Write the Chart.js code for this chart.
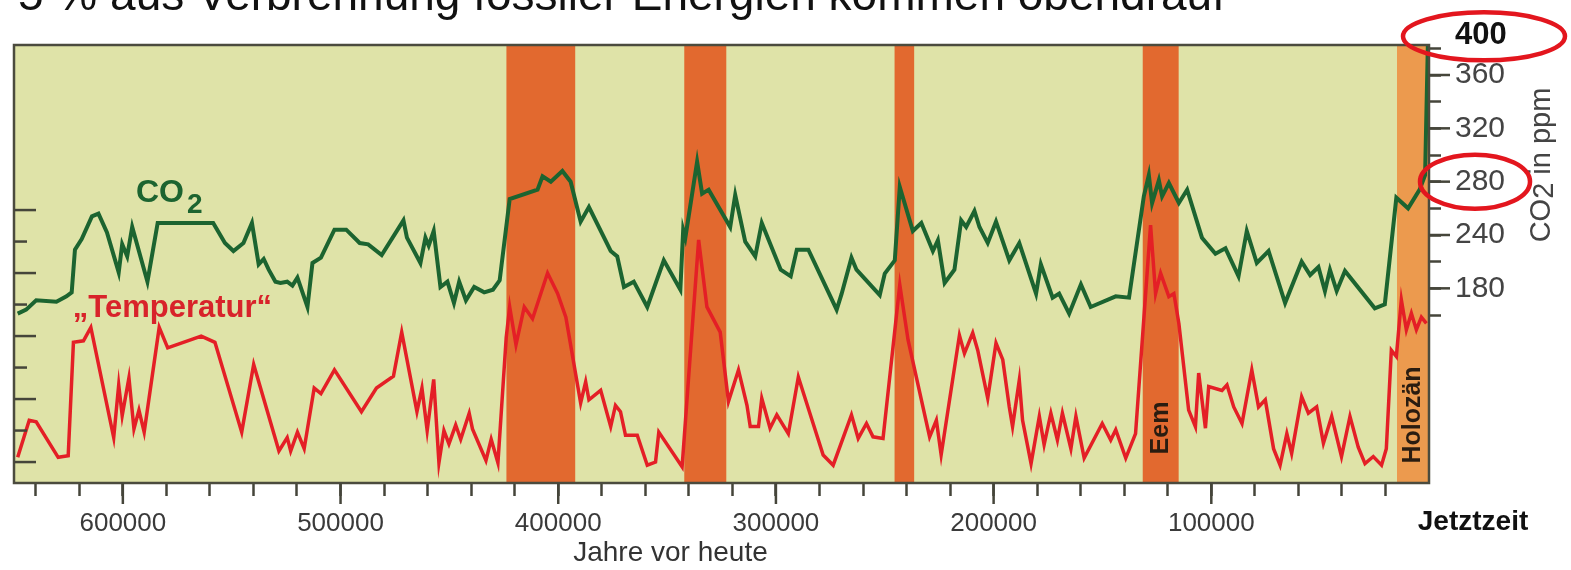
<!DOCTYPE html>
<html lang="de">
<head>
<meta charset="utf-8">
<title>CO2 und Temperatur</title>
<script src="https://cdn.jsdelivr.net/npm/chart.js@4.4.1/dist/chart.umd.min.js"></script>
<style>
  html, body { margin: 0; padding: 0; background: #fff; overflow: hidden; }
  canvas { display: block; }
</style>
</head>
<body>
<canvas id="chart" width="1571" height="570"></canvas>
<script>
const HEADLINE = '5 % aus Verbrennung fossiler Energien kommen obendrauf';

// CO2, Jahre vor heute -> ppm
const CO2_YEARS = [648300, 644400, 639800, 630500, 625900, 623500, 622000, 618900, 614200, 611200,
  607300, 601900, 600300, 598000, 595700, 588700, 584000, 558500, 553100, 549200,
  544600, 540700, 537600, 535300, 533000, 529900, 527600, 524500, 522100, 519800,
  515200, 512900, 509000, 502800, 497400, 491200, 487300, 481100, 471100, 469500,
  463300, 461000, 459500, 457200, 454100, 450900, 447900, 445500, 442400, 438600,
  434000, 430000, 426900, 422300, 409500, 407200, 403400, 398100, 394300, 389700,
  385900, 375900, 372900, 369800, 365300, 359100, 351500, 343900, 342600, 341600,
  336200, 333900, 330900, 321000, 318700, 314100, 309500, 306500, 297800, 293200,
  290400, 285100, 272100, 269800, 265300, 263000, 252300, 250000, 245400, 243100,
  237100, 233200, 227900, 225600, 222500, 218000, 214900, 212600, 208800, 206500,
  202700, 198900, 192800, 188200, 180500, 178300, 172900, 169900, 165300, 159900,
  155400, 143900, 137800, 131000, 128700, 127200, 124100, 122600, 119500, 114900,
  111100, 104300, 98100, 93500, 87500, 83700, 79100, 73700, 66100, 58500,
  54600, 50800, 47800, 45500, 42400, 38600, 24900, 20300, 15000, 9600,
  4300, 1800, 300];
const CO2_PPM = [181, 184, 191, 190, 194, 197, 229, 237, 254, 256,
  242, 212, 233, 224, 246, 205, 249, 249, 234, 228,
  234, 249, 218, 222, 214, 205, 204, 205, 202, 208,
  186, 219, 223, 244, 244, 234, 233, 225, 251, 238,
  219, 238, 232, 243, 201, 205, 189, 205, 191, 201,
  197, 199, 206, 267, 274, 284, 280, 288, 280, 250,
  261, 228, 224, 201, 205, 186, 221, 199, 244, 238,
  295, 271, 274, 246, 270, 235, 224, 249, 214, 209,
  229, 229, 184, 196, 223, 214, 195, 211, 221, 276,
  243, 249, 228, 236, 204, 214, 251, 246, 258, 246,
  234, 250, 221, 234, 196, 218, 193, 196, 181, 203,
  186, 194, 193, 269, 285, 264, 281, 269, 279, 264,
  274, 238, 226, 230, 209, 243, 219, 228, 189, 220,
  210, 216, 198, 214, 198, 213, 185, 188, 268, 260,
  274, 285, 400];

// "Temperatur", Jahre vor heute -> Abweichung in °C
const TEMP_YEARS = [648300, 643000, 639800, 629700, 625100, 622700, 618100, 614700, 604200, 601900,
  600300, 597200, 594900, 592600, 590200, 583300, 579400, 564000, 557700, 545400,
  539900, 528300, 524500, 522900, 519800, 516700, 512100, 509000, 502800, 490400,
  483500, 475700, 471900, 464900, 462600, 460200, 457200, 454800, 452500, 450200,
  447100, 444800, 440900, 439400, 433200, 430800, 427700, 423900, 422300, 419400,
  415600, 411800, 404900, 400300, 396500, 389700, 387400, 385900, 380500, 375900,
  373700, 371400, 369100, 363700, 359100, 355300, 353800, 343100, 335500, 331700,
  325600, 321800, 317200, 313300, 311800, 308000, 306500, 302700, 299600, 294300,
  289700, 278300, 273700, 265300, 262200, 258400, 255400, 250800, 243100, 239300,
  229400, 226300, 224100, 215700, 213400, 209600, 207300, 202700, 198900, 195800,
  192800, 191300, 188200, 186700, 182800, 179000, 176800, 173700, 170700, 168400,
  164500, 162200, 158400, 150100, 146200, 143900, 139300, 134800, 127900, 125600,
  123300, 119500, 117200, 114900, 110400, 107300, 105800, 102700, 101200, 95100,
  92800, 89700, 85900, 81400, 78300, 75200, 71400, 68400, 65300, 63100,
  58500, 55400, 51600, 48500, 44700, 40200, 36300, 32500, 29400, 25600,
  21800, 19600, 17300, 15000, 12700, 10400, 8100, 5800, 3500, 1200];
const TEMP_DEG = [-7.7, -5.35, -5.45, -7.7, -7.6, -0.4, -0.3, 0.55, -6.45, -3.1,
  -5.05, -2.65, -5.9, -4.7, -6.1, 0.55, -0.75, 0.0, -0.4, -6.1,
  -1.8, -7.3, -6.45, -7.3, -6.1, -7.15, -3.3, -3.65, -2.15, -4.8,
  -3.3, -2.55, 0.25, -4.8, -3.3, -6.0, -2.75, -8.05, -6.0, -6.85,
  -5.65, -6.55, -4.9, -5.9, -7.9, -6.55, -8.05, -0.1, 1.85, -0.55,
  1.85, 1.1, 4.0, 2.7, 1.2, -4.25, -2.9, -4.05, -3.45, -5.75,
  -4.4, -4.8, -6.3, -6.3, -8.2, -8.0, -6.1, -8.3, 6.1, 1.85,
  0.25, -4.15, -2.15, -4.4, -5.75, -5.75, -3.95, -5.85, -5.0, -6.2,
  -2.6, -7.55, -8.2, -5.0, -6.5, -5.55, -6.4, -6.5, 3.25, -0.25,
  -6.4, -5.35, -7.55, 0.05, -1.1, 0.2, -0.9, -3.95, -0.45, -1.5,
  -4.5, -5.75, -2.8, -5.35, -8.1, -5.1, -6.9, -4.9, -6.6, -4.9,
  -7.15, -5.1, -7.75, -5.55, -6.6, -5.95, -7.75, -6.2, 7.05, 2.7,
  4.0, 2.5, 2.7, 0.8, -4.7, -5.75, -2.35, -5.85, -3.2, -3.45,
  -3.1, -4.5, -5.55, -2.15, -4.5, -4.05, -7.15, -8.2, -6.2, -7.45,
  -3.85, -4.9, -4.5, -6.8, -5.1, -7.65, -5.1, -7.05, -8.1, -7.65,
  -8.2, -7.15, -0.9, -1.3, 2.3, 0.4, 1.45, 0.4, 1.2, 0.8];

// Warmzeiten (Jahre vor heute)
const WARM_FROM = [423800, 342100, 245500, 131500];
const WARM_TO = [392200, 322800, 236500, 115000];
const HOLOCENE = [14700, 0];

// axis ticks
const X_TICKS = [20000, 40000, 60000, 80000, 100000, 120000, 140000, 160000, 180000, 200000,
  220000, 240000, 260000, 280000, 300000, 320000, 340000, 360000, 380000, 400000,
  420000, 440000, 460000, 480000, 500000, 520000, 540000, 560000, 580000, 600000,
  620000, 640000];
const CO2_TICKS = [180, 200, 220, 240, 260, 280, 300, 320, 340, 360, 380];
const CO2_TICK_TEXT = ['', '180', '', '240', '', '280', '', '320', '', '360', ''];
const TEMP_TICKS = [-8, -6, -4, -2, 0, 2, 4, 6, 8];

const FONT = '"Liberation Sans", Arial, Helvetica, sans-serif';
const GREEN = '#1c6430';
const RED = '#e41f26';

function label(ctx, str, x, y, font, color, align, baseline) {
    ctx.font = font;
    ctx.fillStyle = color;
    ctx.textAlign = align || 'left';
    ctx.textBaseline = baseline || 'alphabetic';
    ctx.fillText(str, x, y);
}

// rotated text, reads bottom to top
function upLabel(ctx, str, x, y, font, color) {
    ctx.save();
    ctx.translate(x, y);
    ctx.rotate(-Math.PI / 2);
    label(ctx, str, 0, 0, font, color, 'center', 'middle');
    ctx.restore();
}

function tick(ctx, x0, y0, x1, y1) {
    ctx.beginPath();
    ctx.moveTo(x0, y0);
    ctx.lineTo(x1, y1);
    ctx.stroke();
}

const decor = {
    id: 'decor',
    beforeDraw(chart) {
        const { ctx, chartArea: a, scales } = chart;
        const x = scales.x;
        ctx.save();
        ctx.fillStyle = '#dfe3a8';
        ctx.fillRect(a.left, a.top, a.width, a.height);
        ctx.fillStyle = '#e2692f';
        WARM_FROM.forEach((from, i) => {
            const x0 = x.getPixelForValue(from);
            const x1 = x.getPixelForValue(WARM_TO[i]);
            ctx.fillRect(x0, a.top, x1 - x0, a.height);
        });
        const h0 = x.getPixelForValue(HOLOCENE[0]);
        const h1 = x.getPixelForValue(HOLOCENE[1]);
        ctx.fillStyle = '#ec9a4e';
        ctx.fillRect(h0, a.top, h1 - h0, a.height);

        const eemX = (x.getPixelForValue(WARM_FROM[3]) + x.getPixelForValue(WARM_TO[3])) / 2;
        upLabel(ctx, 'Eem', eemX, a.bottom - 55, 'bold 25px ' + FONT, '#2a1c10');
        upLabel(ctx, 'Holozän', (h0 + h1) / 2, a.bottom - 68, 'bold 25px ' + FONT, '#2a1c10');
        ctx.restore();
    },
    afterDatasetsDraw(chart) {
        const { ctx, chartArea: a, scales } = chart;
        ctx.save();
        ctx.strokeStyle = '#4b4b3e';
        ctx.lineWidth = 2.5;
        ctx.strokeRect(a.left, a.top, a.width, a.height);

        // ticks of the hidden temperature axis, drawn inside
        ctx.strokeStyle = '#45453a';
        ctx.lineWidth = 2.5;
        scales.yT.ticks.forEach(t => {
            const y = scales.yT.getPixelForValue(t.value);
            tick(ctx, a.left, y, a.left + (t.value % 4 === 0 ? 22 : 13), y);
        });
        // longer ticks for labelled values
        scales.x.ticks.forEach(t => {
            if (t.value % 100000 === 0) {
                const x = scales.x.getPixelForValue(t.value);
                tick(ctx, x, a.bottom, x, a.bottom + 21);
            }
        });
        scales.yCO2.ticks.forEach((t, i) => {
            if (CO2_TICK_TEXT[i]) {
                const y = scales.yCO2.getPixelForValue(t.value);
                tick(ctx, a.right, y, a.right + 21, y);
            }
        });

        // series names
        const cx = scales.x.getPixelForValue(594000);
        const cy = scales.yCO2.getPixelForValue(265);
        label(ctx, 'CO', cx, cy, 'bold 32px ' + FONT, GREEN);
        const w = ctx.measureText('CO').width;
        label(ctx, '2', cx + w + 3, cy + 11, 'bold 28px ' + FONT, GREEN);
        label(ctx, '„Temperatur“', scales.x.getPixelForValue(623000), scales.yT.getPixelForValue(1.2),
            'bold 31px ' + FONT, '#d8232a');
        ctx.restore();
    },
    afterDraw(chart) {
        const { ctx, chartArea: a, scales } = chart;
        ctx.save();
        label(ctx, HEADLINE, 18, 10, '46px ' + FONT, '#111');

        const x0 = scales.x.getPixelForValue(0);
        label(ctx, 'Jetztzeit', x0 + 44, 522, 'bold 28px ' + FONT, '#111', 'center', 'middle');
        label(ctx, 'Jahre vor heute', (a.left + a.right) / 2 - 51, 553, '28px ' + FONT, '#333', 'center', 'middle');

        const y380 = scales.yCO2.getPixelForValue(380);
        const y280 = scales.yCO2.getPixelForValue(280);
        label(ctx, '400', a.right + 26, y380 - 13, 'bold 31px ' + FONT, '#111', 'left', 'middle');

        // axis title, CO2 in ppm
        ctx.translate(a.right + 113, a.top + 120);
        ctx.rotate(-Math.PI / 2);
        ctx.font = '29px ' + FONT;
        const parts = ['CO', '2', ' in ppm'];
        const total = parts.reduce((s, p) => s + ctx.measureText(p).width, 0);
        let px = -total / 2;
        parts.forEach((p, i) => {
            label(ctx, p, px, i === 1 ? 3 : 0, '29px ' + FONT, '#444', 'left', 'middle');
            px += ctx.measureText(p).width;
        });
        ctx.setTransform(1, 0, 0, 1, 0, 0);

        // red rings
        ctx.strokeStyle = '#e3161e';
        ctx.lineWidth = 4.5;
        ctx.beginPath();
        ctx.ellipse(a.right + 55, y380 - 12, 81, 24, 0, 0, Math.PI * 2);
        ctx.stroke();
        ctx.beginPath();
        ctx.ellipse(a.right + 46, y280, 55, 27, 0, 0, Math.PI * 2);
        ctx.stroke();
        ctx.restore();
    }
};

const chart = new Chart(document.getElementById('chart'), {
    type: 'line',
    data: {
        datasets: [{
            label: 'CO2',
            data: CO2_YEARS.map((t, i) => ({ x: t, y: CO2_PPM[i] })),
            yAxisID: 'yCO2',
            borderColor: GREEN,
            borderWidth: 4,
            pointRadius: 0,
            tension: 0,
            clip: 0
        }, {
            label: 'Temperatur',
            data: TEMP_YEARS.map((t, i) => ({ x: t, y: TEMP_DEG[i] })),
            yAxisID: 'yT',
            borderColor: RED,
            borderWidth: 3.5,
            pointRadius: 0,
            tension: 0,
            clip: 0
        }]
    },
    options: {
        responsive: false,
        animation: false,
        devicePixelRatio: 1,
        layout: { padding: { left: 14, top: 45, right: 0, bottom: 0 } },
        plugins: { legend: { display: false }, tooltip: { enabled: false } },
        scales: {
            x: {
                type: 'linear',
                reverse: true,
                min: 0,
                max: 650000,
                afterBuildTicks: s => { s.ticks = X_TICKS.map(v => ({ value: v })); },
                afterFit: s => { s.height = 87; },
                border: { display: false },
                grid: { drawOnChartArea: false, tickLength: 13, tickWidth: 2.5, tickColor: '#45453a' },
                ticks: {
                    autoSkip: false,
                    maxRotation: 0,
                    padding: 12,
                    color: '#3a3a3a',
                    font: { family: FONT, size: 26 },
                    callback: v => (v % 100000 === 0 ? String(v) : '')
                }
            },
            yT: {
                position: 'left',
                display: false,
                min: -9.33,
                max: 18.48,
                afterBuildTicks: s => { s.ticks = TEMP_TICKS.map(v => ({ value: v })); }
            },
            yCO2: {
                position: 'right',
                min: 54,
                max: 382.5,
                afterBuildTicks: s => { s.ticks = CO2_TICKS.map(v => ({ value: v })); },
                afterFit: s => { s.width = 142; },
                border: { display: false },
                grid: { drawOnChartArea: false, tickLength: 12, tickWidth: 2.5, tickColor: '#45453a' },
                ticks: {
                    autoSkip: false,
                    padding: 14,
                    color: '#444',
                    font: { family: FONT, size: 30 },
                    callback: (v, i) => CO2_TICK_TEXT[i]
                }
            }
        }
    },
    plugins: [decor]
});
</script>
</body>
</html>
